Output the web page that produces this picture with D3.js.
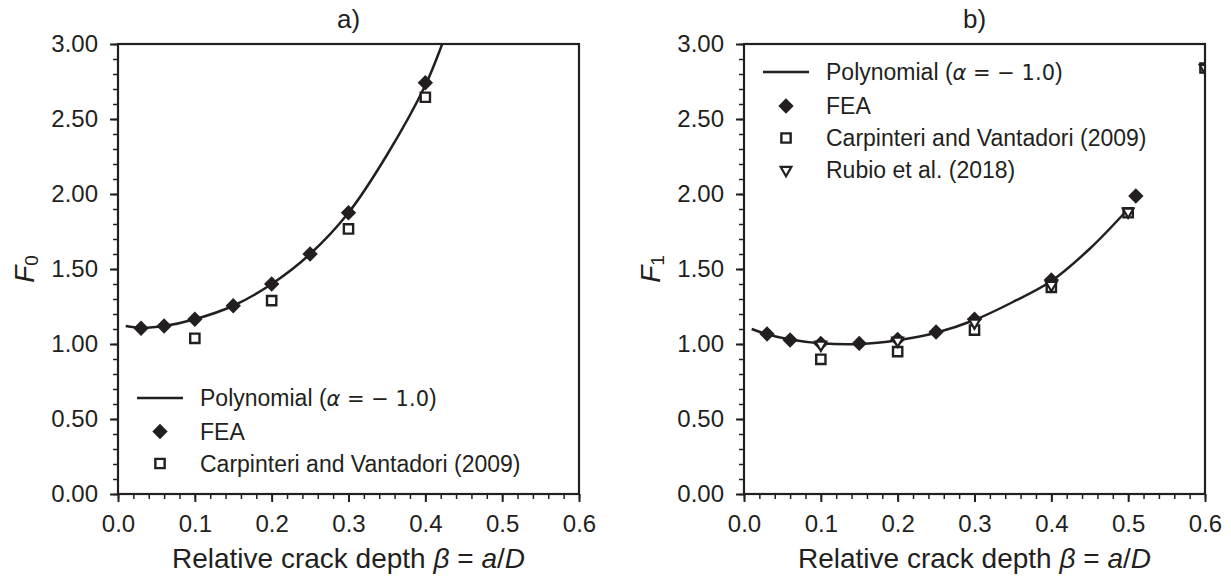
<!DOCTYPE html>
<html>
<head>
<meta charset="utf-8">
<script src="https://cdn.jsdelivr.net/npm/d3@7/dist/d3.min.js"></script>
<style>
  body { margin: 0; background: #fff; }
  text { font-family: "Liberation Sans", Arial, sans-serif; fill: #231f20; }
</style>
</head>
<body>
<div id="chart"></div>
<script>
// ---- data ----
// panel a) F0
const feaBetaA = [0.03, 0.06, 0.10, 0.15, 0.20, 0.25, 0.30, 0.40];
const feaF0 = [1.105, 1.12, 1.165, 1.255, 1.40, 1.60, 1.875, 2.742];
const carpBetaA = [0.10, 0.20, 0.30, 0.40];
const carpF0 = [1.038, 1.289, 1.767, 2.645];
const polyBetaA = [0.01, 0.03, 0.06, 0.10, 0.15, 0.20, 0.25, 0.30, 0.35, 0.40, 0.422, 0.43];
const polyF0 = [1.12, 1.108, 1.12, 1.165, 1.255, 1.40, 1.60, 1.875, 2.26, 2.725, 3.00, 3.11];

// panel b) F1
const feaBetaB = [0.03, 0.06, 0.10, 0.15, 0.20, 0.25, 0.30, 0.40, 0.51];
const feaF1 = [1.067, 1.027, 1.004, 1.004, 1.031, 1.08, 1.165, 1.427, 1.987];
const carpBetaB = [0.10, 0.20, 0.30, 0.40, 0.50, 0.60];
const carpF1 = [0.898, 0.949, 1.093, 1.378, 1.875, 2.84];
const rubioBeta = [0.10, 0.20, 0.30, 0.40, 0.50, 0.60];
const rubioF1 = [0.995, 1.022, 1.142, 1.393, 1.882, 2.84];
const polyBetaB = [0.01, 0.03, 0.06, 0.10, 0.15, 0.20, 0.25, 0.30, 0.35, 0.40, 0.45, 0.50];
const polyF1 = [1.10, 1.065, 1.03, 1.005, 1.0, 1.025, 1.075, 1.16, 1.28, 1.42, 1.635, 1.90];

const xTicks = [0, 0.1, 0.2, 0.3, 0.4, 0.5, 0.6];
const yTicks = [0, 0.5, 1.0, 1.5, 2.0, 2.5, 3.0];

const ink = "#231f20";
const W = 1231, H = 579;
const svg = d3.select("#chart").append("svg")
    .attr("width", W).attr("height", H);

const zip = (xs, ys) => xs.map((x, i) => ({x: x, y: ys[i]}));

// markers
const diamondPath = d3.symbol().type(d3.symbolSquare).size(118)();
const squarePath = d3.symbol().type(d3.symbolSquare).size(86)();
const triPath = d3.symbol().type(d3.symbolTriangle).size(50)();

function drawPanel(p) {
    const g = svg.append("g").attr("transform", `translate(${p.left},${p.top})`);
    const w = 461, h = 450;
    const x = d3.scaleLinear().domain([0, 0.6]).range([0, w]);
    const y = d3.scaleLinear().domain([0, 3]).range([h, 0]);

    const clipId = "clip-" + p.id;
    g.append("clipPath").attr("id", clipId)
        .append("rect").attr("width", w).attr("height", h);

    // minor ticks
    g.append("g").attr("transform", `translate(0,${h})`)
        .call(d3.axisBottom(x).tickValues(d3.range(0, 0.601, 0.02)).tickSize(5).tickFormat(""))
        .call(s => s.select(".domain").remove())
        .selectAll("line").attr("stroke", ink).attr("stroke-width", 1.5);
    g.append("g")
        .call(d3.axisLeft(y).tickValues(d3.range(0, 3.001, 0.1)).tickSize(5).tickFormat(""))
        .call(s => s.select(".domain").remove())
        .selectAll("line").attr("stroke", ink).attr("stroke-width", 1.5);

    // major ticks
    const xa = g.append("g").attr("transform", `translate(0,${h})`)
        .call(d3.axisBottom(x).tickValues(xTicks).tickSize(8).tickPadding(13).tickFormat(d3.format(".1f")));
    const ya = g.append("g")
        .call(d3.axisLeft(y).tickValues(yTicks).tickSize(8).tickPadding(12).tickFormat(d3.format(".2f")));
    [xa, ya].forEach(a => {
        a.select(".domain").remove();
        a.selectAll("line").attr("stroke", ink).attr("stroke-width", 2);
        a.selectAll("text").style("font-family", "Liberation Sans, Arial, sans-serif")
            .style("font-size", "24px").attr("fill", ink);
    });

    const plot = g.append("g").attr("clip-path", `url(#${clipId})`);

    // polynomial
    plot.append("path")
        .datum(zip(p.polyX, p.polyY))
        .attr("fill", "none").attr("stroke", ink).attr("stroke-width", 2.5)
        .attr("d", d3.line().x(d => x(d.x)).y(d => y(d.y)).curve(d3.curveCatmullRom));

    // FEA
    plot.selectAll(".fea").data(zip(p.feaX, p.feaY)).enter().append("path")
        .attr("d", diamondPath)
        .attr("transform", d => `translate(${x(d.x)},${y(d.y)}) rotate(45)`)
        .attr("fill", ink);

    // Carpinteri and Vantadori
    plot.selectAll(".carp").data(zip(p.carpX, p.carpY)).enter().append("path")
        .attr("d", squarePath)
        .attr("transform", d => `translate(${x(d.x)},${y(d.y)})`)
        .attr("fill", "#fff").attr("stroke", ink).attr("stroke-width", 2.4);

    // Rubio et al.
    if (p.rubX) {
        plot.selectAll(".rub").data(zip(p.rubX, p.rubY)).enter().append("path")
            .attr("d", triPath)
            .attr("transform", d => `translate(${x(d.x)},${y(d.y)}) rotate(180)`)
            .attr("fill", "#fff").attr("stroke", ink).attr("stroke-width", 2.2);
    }

    // frame
    g.append("rect").attr("width", w).attr("height", h)
        .attr("fill", "none").attr("stroke", ink).attr("stroke-width", 2.2);

    // title
    g.append("text").attr("x", w / 2).attr("y", 28 - p.top)
        .attr("text-anchor", "middle").style("font-size", "26px").text(p.title);

    // x label
    const xl = g.append("text").attr("x", w / 2).attr("y", 568 - p.top)
        .attr("text-anchor", "middle").style("font-size", "28px");
    xl.append("tspan").text("Relative crack depth ");
    xl.append("tspan").style("font-style", "italic").text("β");
    xl.append("tspan").text(" = ");
    xl.append("tspan").style("font-style", "italic").text("a");
    xl.append("tspan").text("/");
    xl.append("tspan").style("font-style", "italic").text("D");

    // y label
    const yl = g.append("text")
        .attr("transform", `translate(${p.ylabX - p.left},${h / 2}) rotate(-90)`)
        .attr("text-anchor", "middle").style("font-size", "28px");
    yl.append("tspan").style("font-style", "italic").text("F");
    yl.append("tspan").attr("dy", 4).style("font-size", "19px").text(p.sub);

    // legend
    const lg = g.append("g");
    p.legend.forEach((item, i) => {
        const ry = p.legY[i] - p.top;
        if (item.kind === "line") {
            lg.append("line").attr("x1", 19).attr("x2", 65).attr("y1", ry).attr("y2", ry)
                .attr("stroke", ink).attr("stroke-width", 2.5);
        } else if (item.kind === "fea") {
            lg.append("path").attr("d", diamondPath)
                .attr("transform", `translate(42,${ry}) rotate(45)`).attr("fill", ink);
        } else if (item.kind === "carp") {
            lg.append("path").attr("d", squarePath)
                .attr("transform", `translate(42,${ry})`)
                .attr("fill", "#fff").attr("stroke", ink).attr("stroke-width", 2.4);
        } else {
            lg.append("path").attr("d", triPath)
                .attr("transform", `translate(42,${ry}) rotate(180)`)
                .attr("fill", "#fff").attr("stroke", ink).attr("stroke-width", 2.2);
        }
        const t = lg.append("text").attr("x", 82).attr("y", ry + 8).style("font-size", "23px");
        if (item.kind === "line") {
            t.append("tspan").text("Polynomial (");
            t.append("tspan").style("font-family", "DejaVu Sans").style("font-size", "21px")
                .style("font-style", "italic").text("α");
            t.append("tspan").style("font-family", "DejaVu Sans").style("font-size", "21px")
                .attr("xml:space", "preserve").text(" = − 1.0");
            t.append("tspan").text(")");
        } else {
            t.text(item.label);
        }
    });
}

const legendItems = [
    {kind: "line", label: "Polynomial"},
    {kind: "fea", label: "FEA"},
    {kind: "carp", label: "Carpinteri and Vantadori (2009)"},
    {kind: "rub", label: "Rubio et al. (2018)"}
];

drawPanel({
    id: "a", left: 118, top: 44, title: "a)", sub: "0", ylabX: 34,
    polyX: polyBetaA, polyY: polyF0,
    feaX: feaBetaA, feaY: feaF0,
    carpX: carpBetaA, carpY: carpF0,
    legend: legendItems.slice(0, 3), legY: [398, 431.5, 463.5]
});

drawPanel({
    id: "b", left: 744, top: 44, title: "b)", sub: "1", ylabX: 660,
    polyX: polyBetaB, polyY: polyF1,
    feaX: feaBetaB, feaY: feaF1,
    carpX: carpBetaB, carpY: carpF1,
    rubX: rubioBeta, rubY: rubioF1,
    legend: legendItems, legY: [72, 106, 138, 170]
});
</script>
</body>
</html>
